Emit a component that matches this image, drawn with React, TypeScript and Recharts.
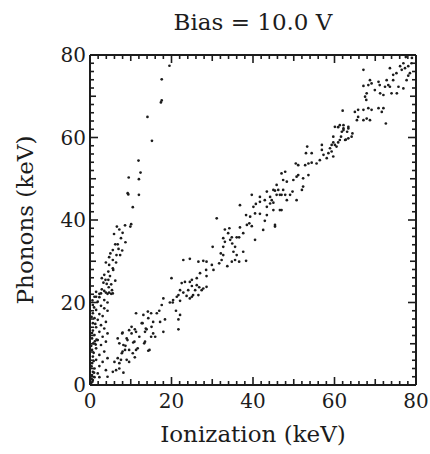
import { Scatter, ScatterChart, XAxis, YAxis } from "recharts";

// steep band: low ionization yield (left band)
const neutronBand: [number, number][] = [
  [19.5, 77.4], [17.6, 74.1], [17.4, 68.5], [17.6, 69.0], [14.1, 65.0], [15.2, 59.2],
  [11.9, 54.4], [9.5, 50.3], [12.4, 51.5], [12.0, 49.9], [9.25, 46.5], [9.4, 46.2],
  [12.0, 46.1], [10.5, 43.1], [10.1, 39.0], [9.9, 38.4], [8.6, 38.7], [6.6, 38.4],
  [7.2, 37.7], [8.0, 36.9], [5.9, 36.6], [7.6, 35.6], [8.7, 34.6], [6.8, 34.1],
  [6.2, 34.1], [7.0, 33.0], [5.6, 32.7], [7.9, 32.6], [5.0, 31.9], [6.5, 31.5],
  [7.4, 31.5], [4.7, 31.0], [5.6, 30.3], [3.9, 29.7], [6.4, 29.7], [4.7, 29.1],
  [5.6, 28.3], [5.7, 27.9], [4.5, 27.5], [3.5, 26.7], [4.9, 26.4], [2.9, 25.9],
  [3.8, 25.5], [4.5, 25.5], [6.2, 25.3], [3.3, 24.8], [4.1, 24.5], [5.2, 24.4],
  [4.6, 23.7], [5.4, 23.0], [2.9, 23.2], [3.5, 22.8], [4.3, 22.1], [5.2, 22.1],
  [2.3, 22.1], [1.5, 21.4], [1.5, 22.6], [2.7, 22.2], [3.9, 22.4], [4.7, 22.4],
  [5.6, 22.2], [1.1, 21.4], [2.3, 21.3], [3.5, 20.6], [1.9, 20.2], [4.3, 20.0],
  [0.7, 19.4], [2.7, 19.2], [3.5, 18.6], [1.5, 18.2], [4.3, 18.0], [0.7, 17.4],
  [2.3, 17.2], [3.1, 16.7], [1.1, 16.2], [1.9, 15.8], [3.9, 15.3], [0.7, 15.0],
  [2.7, 14.5], [1.5, 14.0], [3.5, 13.7], [0.7, 13.2], [2.3, 12.9], [4.3, 12.5],
  [1.1, 12.1], [3.1, 11.7], [0.5, 11.3], [1.9, 10.9], [3.9, 10.5], [0.8, 10.1],
  [2.7, 9.7], [1.5, 8.9], [0.5, 8.5], [3.5, 8.1], [2.3, 7.3], [0.7, 6.9],
  [1.5, 6.1], [4.3, 6.5], [3.1, 5.6], [0.5, 5.3], [2.3, 4.6], [1.1, 4.0],
  [3.9, 3.6], [0.7, 3.2], [1.9, 2.8], [0.5, 2.4], [1.1, 1.9], [2.3, 1.9],
  [4.3, 2.0], [0.7, 1.2], [0.4, 1.5], [0.3, 0.5], [0.6, 0.8], [1.0, 3.0],
  [0.4, 4.5], [0.9, 7.8], [0.3, 9.5], [1.2, 10.6], [0.5, 12.6], [1.3, 14.8],
  [0.4, 16.5], [1.0, 18.8], [0.6, 20.5], [1.6, 11.0], [1.4, 9.8], [0.9, 5.8],
];

// main band: phonons ~ ionization
const gammaBand: [number, number][] = [
  [5.6, 3.2], [6.4, 3.6], [7.2, 4.0], [8.2, 3.0], [11.3, 17.4], [14.2, 17.8],
  [15.0, 17.4], [12.9, 15.0], [13.7, 13.7], [9.6, 13.3], [11.3, 12.9], [7.9, 12.5],
  [12.1, 11.7], [15.0, 11.7], [6.8, 11.3], [9.2, 10.9], [10.9, 10.5], [13.3, 10.1],
  [7.2, 10.1], [8.7, 9.5], [11.7, 8.9], [9.6, 8.5], [14.6, 8.5], [8.0, 8.1],
  [10.5, 7.7], [6.8, 6.5], [7.6, 6.1], [9.6, 5.6], [6.0, 5.6], [7.2, 5.3],
  [9.0, 6.1], [11.0, 6.7], [7.8, 7.7], [8.6, 8.5], [11.3, 8.5], [14.3, 8.3],
  [8.2, 9.7], [10.6, 10.3], [13.5, 10.5], [9.0, 11.3], [16.0, 11.7], [10.2, 12.5],
  [13.5, 12.9], [8.0, 12.7], [15.5, 12.5], [11.0, 13.5], [13.9, 13.5], [18.0, 12.9],
  [21.7, 13.5], [10.2, 14.1], [15.1, 14.1], [12.7, 15.0], [15.5, 15.3], [17.2, 15.3],
  [18.4, 15.9], [21.7, 15.9], [14.3, 16.2], [13.1, 17.0], [16.4, 17.4], [17.0, 18.0],
  [21.1, 18.0], [22.1, 17.0], [17.6, 19.4], [19.6, 20.0], [20.3, 20.0], [18.0, 21.0],
  [22.1, 20.4], [21.3, 21.4], [22.1, 23.0], [21.7, 21.8], [22.9, 22.4], [23.7, 21.6],
  [24.5, 21.0], [24.1, 23.0], [25.0, 24.0], [22.5, 24.7], [23.3, 25.0], [24.5, 25.0],
  [26.2, 24.2], [26.8, 23.7], [27.4, 23.0], [26.6, 21.8], [25.3, 21.8], [28.6, 23.8],
  [20.0, 25.9], [20.4, 20.6], [22.9, 30.3], [24.5, 30.6], [25.0, 21.4], [25.8, 23.0],
  [27.8, 23.4], [25.0, 25.5], [26.2, 25.9], [28.6, 26.4], [27.0, 27.1], [28.5, 27.9],
  [30.3, 27.9], [26.6, 29.9], [27.8, 30.1], [28.6, 29.9], [29.9, 29.1], [31.7, 29.5],
  [32.3, 30.3], [33.7, 28.8], [34.8, 29.9], [32.7, 31.5], [32.1, 31.9], [35.6, 30.3],
  [36.6, 29.9], [38.3, 30.1], [36.0, 31.5], [35.2, 32.3], [37.6, 32.3], [30.1, 33.5],
  [32.7, 33.5], [35.6, 33.5], [33.1, 34.7], [34.4, 35.2], [34.8, 35.8], [36.0, 35.8],
  [36.6, 35.8], [34.9, 34.3], [32.7, 35.6], [37.6, 36.8], [33.9, 36.8], [33.1, 37.7],
  [34.2, 38.0], [36.8, 38.2], [38.5, 38.8], [39.1, 39.2], [39.7, 38.5], [40.5, 35.2],
  [38.3, 41.2], [39.3, 40.8], [40.5, 41.6], [41.7, 41.5], [42.9, 39.8], [42.5, 37.6],
  [45.4, 38.8], [43.4, 41.2], [36.8, 43.6], [40.1, 43.2], [40.7, 43.9], [41.7, 44.4],
  [43.4, 43.2], [44.2, 44.0], [45.0, 44.2], [42.9, 44.8], [39.7, 46.1], [41.7, 45.6],
  [44.2, 45.6], [45.8, 46.1], [47.0, 46.1], [48.3, 44.8], [46.6, 42.4], [45.4, 47.1],
  [43.4, 46.9], [31.1, 40.4], [45.0, 42.4], [47.0, 42.4], [44.6, 44.8], [46.6, 46.1],
  [47.4, 47.3], [46.2, 47.3], [45.0, 47.3], [47.9, 46.1], [50.7, 44.8], [49.1, 46.1],
  [49.7, 46.9], [52.0, 47.3], [52.3, 48.1], [45.8, 48.5], [47.4, 49.7], [48.3, 49.3],
  [49.9, 49.7], [50.7, 50.5], [51.1, 50.9], [47.0, 51.3], [47.9, 51.7], [52.3, 50.1],
  [53.6, 50.9], [51.1, 53.3], [50.5, 53.7], [52.8, 53.3], [53.6, 53.7], [54.4, 53.9],
  [55.6, 53.7], [56.4, 54.5], [53.0, 56.2], [54.4, 56.2], [53.3, 57.8], [57.3, 55.8],
  [56.9, 57.0], [58.1, 55.0], [58.5, 56.2], [59.3, 56.6], [58.9, 57.4], [59.3, 58.2],
  [56.9, 58.2], [59.7, 55.4], [60.5, 57.8], [59.7, 58.8], [60.9, 58.8], [60.1, 62.6],
  [61.3, 63.0], [62.2, 62.2], [63.4, 62.6], [63.1, 61.4], [64.2, 60.2], [62.8, 59.5],
  [64.4, 61.0], [61.8, 61.4], [61.6, 60.2], [59.7, 60.2], [45.4, 38.4], [60.1, 58.2],
  [61.3, 59.4], [62.6, 59.4], [63.4, 59.8], [62.2, 61.8], [63.4, 62.2], [62.2, 63.0],
  [60.9, 62.5], [65.5, 64.2], [65.8, 65.0], [67.1, 64.2], [67.9, 64.6], [68.7, 64.2],
  [65.0, 66.2], [65.8, 66.7], [67.1, 66.7], [68.3, 67.1], [69.1, 66.7], [70.8, 67.1],
  [71.6, 66.2], [72.0, 67.1], [72.6, 63.4], [62.0, 66.5], [67.5, 69.9], [67.8, 69.1],
  [67.9, 70.7], [67.1, 72.5], [68.3, 72.7], [69.1, 73.1], [70.8, 73.5], [71.1, 72.7],
  [69.9, 71.5], [71.2, 70.7], [72.0, 70.3], [72.4, 72.3], [73.2, 72.7], [73.6, 72.3],
  [72.8, 73.9], [74.4, 73.9], [75.7, 72.3], [75.3, 70.7], [76.9, 71.9], [74.0, 70.7],
  [67.1, 76.4], [73.6, 76.8], [74.4, 75.2], [75.2, 75.6], [76.1, 77.3], [76.5, 76.4],
  [77.3, 76.8], [78.1, 77.3], [78.5, 75.6], [77.7, 73.9], [78.1, 75.0], [76.9, 78.0],
  [78.9, 78.0], [68.7, 73.9], [77.5, 79.5], [79.0, 79.3],
];

const axisTicks = [
  0, 2, 4, 6, 8, 10, 12, 14, 16, 18, 20, 22, 24, 26, 28, 30, 32, 34, 36, 38, 40,
  42, 44, 46, 48, 50, 52, 54, 56, 58, 60, 62, 64, 66, 68, 70, 72, 74, 76, 78, 80,
];
const labelTicks = [0, 20, 40, 60, 80];

const FONT = "DejaVu Serif";
const INK = "#1c1c1c";

const toPoints = (rows: [number, number][]) => rows.map(([x, y]) => ({ x, y }));

const tickLen = (v: number) => (v % 20 === 0 ? 8 : v % 10 === 0 ? 6 : 4);

const Dot = (props: any) => <circle cx={props.cx} cy={props.cy} r={1.35} fill={INK} />;

const BottomTick = ({ x, y, payload }: any) => {
  const v = payload.value;
  return (
    <g>
      <line x1={x} y1={y} x2={x} y2={y - tickLen(v)} stroke={INK} strokeWidth={1.6} />
      {labelTicks.includes(v) && (
        <text x={x} y={y + 23} textAnchor="middle" fontFamily={FONT} fontSize={20} fill={INK}>
          {v}
        </text>
      )}
    </g>
  );
};

const TopTick = ({ x, y, payload }: any) => (
  <line x1={x} y1={y} x2={x} y2={y + tickLen(payload.value)} stroke={INK} strokeWidth={1.6} />
);

const LeftTick = ({ x, y, payload }: any) => {
  const v = payload.value;
  return (
    <g>
      <line x1={x} y1={y} x2={x + tickLen(v)} y2={y} stroke={INK} strokeWidth={1.6} />
      {labelTicks.includes(v) && (
        <text x={x - 4} y={y + 7} textAnchor="end" fontFamily={FONT} fontSize={20} fill={INK}>
          {v}
        </text>
      )}
    </g>
  );
};

const RightTick = ({ x, y, payload }: any) => (
  <line x1={x} y1={y} x2={x - tickLen(payload.value)} y2={y} stroke={INK} strokeWidth={1.6} />
);

const axisLine = { stroke: INK, strokeWidth: 2 };
const labelStyle = { fontFamily: FONT, fontSize: 23, fill: INK };

// title drawn as the top axis label
const TitleLabel = ({ viewBox }: any) => (
  <text
    x={viewBox.x + viewBox.width / 2}
    y={30}
    textAnchor="middle"
    fontFamily={FONT}
    fontSize={23}
    fill={INK}
  >
    Bias = 10.0 V
  </text>
);

export default function App() {
  return (
    <div style={{ position: "absolute", left: 0, top: 0, background: "#fff" }}>
      <ScatterChart width={430} height={454} margin={{ top: 0, right: 0, bottom: 9, left: 0 }}>
        <XAxis
          xAxisId="bottom"
          dataKey="x"
          type="number"
          domain={[0, 80]}
          allowDataOverflow
          ticks={axisTicks}
          interval={0}
          height={60}
          tickSize={0}
          tickMargin={0}
          tickLine={false}
          axisLine={axisLine}
          tick={BottomTick}
          label={{ value: "Ionization (keV)", position: "insideBottom", offset: 3, style: labelStyle }}
        />
        <XAxis
          xAxisId="top"
          orientation="top"
          dataKey="x"
          type="number"
          domain={[0, 80]}
          allowDataOverflow
          ticks={axisTicks}
          interval={0}
          height={55}
          tickSize={0}
          tickMargin={0}
          tickLine={false}
          axisLine={axisLine}
          tick={TopTick}
          label={TitleLabel}
        />
        <YAxis
          yAxisId="left"
          dataKey="y"
          type="number"
          domain={[0, 80]}
          allowDataOverflow
          ticks={axisTicks}
          interval={0}
          width={90}
          tickSize={0}
          tickMargin={0}
          tickLine={false}
          axisLine={axisLine}
          tick={LeftTick}
          label={{
            value: "Phonons (keV)",
            angle: -90,
            position: "insideLeft",
            offset: 25,
            style: { ...labelStyle, textAnchor: "middle" },
          }}
        />
        <YAxis
          yAxisId="right"
          orientation="right"
          dataKey="y"
          type="number"
          domain={[0, 80]}
          allowDataOverflow
          ticks={axisTicks}
          interval={0}
          width={14}
          tickSize={0}
          tickMargin={0}
          tickLine={false}
          axisLine={axisLine}
          tick={RightTick}
        />
        <Scatter
          data={toPoints(gammaBand)}
          xAxisId="bottom"
          yAxisId="left"
          shape={Dot}
          isAnimationActive={false}
        />
        <Scatter
          data={toPoints(neutronBand)}
          xAxisId="top"
          yAxisId="right"
          shape={Dot}
          isAnimationActive={false}
        />
      </ScatterChart>
    </div>
  );
}
